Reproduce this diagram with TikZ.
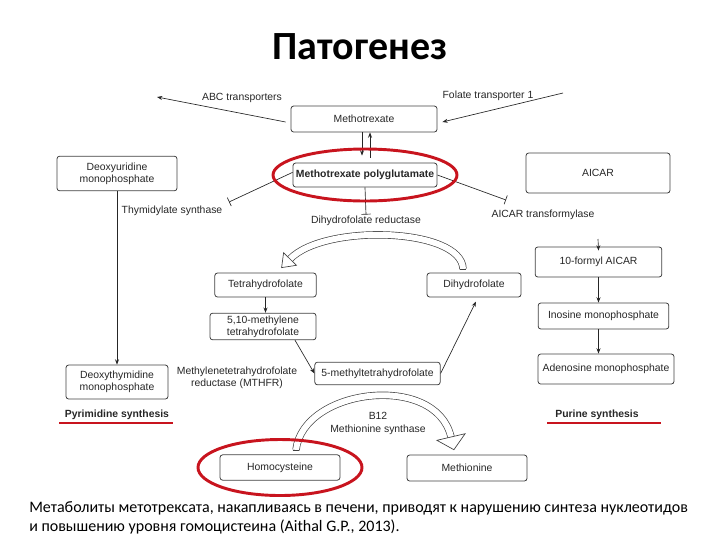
\documentclass[tikz,border=0pt]{standalone}
\usepackage{fontspec}
\setmainfont{Liberation Sans}
\newfontfamily\slidefont{Carlito}
\usetikzlibrary{arrows.meta, calc}
\definecolor{ringred}{RGB}{200,20,30}
\tikzstyle{arrow} = [line width=0.5pt, draw=black!85, -{Stealth[length=4pt, width=3pt]}]
\tikzstyle{inhib} = [line width=0.5pt, draw=black!85, -{Bar[width=7pt]}]
\tikzstyle{box} = [draw=black!75, line width=0.6pt, rounded corners=2pt, inner sep=0pt, align=center, text=black!85]
\tikzstyle{lbl} = [inner sep=1pt, align=center, text=black!85]
\tikzstyle{hollow} = [draw=black!75, line width=0.5pt, double=white, double distance=4.5pt]
\tikzstyle{hollowhead} = [draw=black!75, fill=white, line width=0.5pt, line join=miter]
\tikzstyle{redring} = [draw=ringred, line width=2.2pt]
\tikzstyle{redline} = [draw=ringred, line width=1.9pt]

\begin{document}
\begin{tikzpicture}[x=0.75pt,y=0.75pt,yscale=-1,xscale=1, font=\fontsize{7.8}{9.2}\selectfont]
\useasboundingbox (0,0) rectangle (720,540);

% Title
\node[font=\slidefont\bfseries\fontsize{30}{36}\selectfont] (title) at (360,47) {Патогенез};

% Boxes
\node[box, minimum width=109.5pt, minimum height=19.5pt] (mtx) at (364,119) {Methotrexate};
\node[box, minimum width=108pt, minimum height=18pt, font=\fontsize{7.8}{9.2}\selectfont\bfseries] (mtxpg) at (365,175) {Methotrexate polyglutamate};
\node[box, minimum width=90pt, minimum height=26pt] (dump) at (117,173.5) {Deoxyuridine\\monophosphate};
\node[box, minimum width=76.5pt, minimum height=25.5pt] (dtmp) at (117,382) {Deoxythymidine\\monophosphate};
\node[box, minimum width=108pt, minimum height=30pt] (aicar) at (598,173) {AICAR};
\node[box, minimum width=95pt, minimum height=22.5pt] (faicar) at (598.5,262) {10-formyl AICAR};
\node[box, minimum width=98pt, minimum height=19.5pt] (imp) at (603.5,316) {Inosine monophosphate};
\node[box, minimum width=102pt, minimum height=22.5pt] (amp) at (606,369) {Adenosine monophosphate};
\node[box, minimum width=76pt, minimum height=18pt] (thf) at (265.5,285) {Tetrahydrofolate};
\node[box, minimum width=70.5pt, minimum height=18pt] (dhf) at (474,285) {Dihydrofolate};
\node[box, minimum width=79.5pt, minimum height=20pt] (mthf510) at (263,326.5) {5,10-methylene\\tetrahydrofolate};
\node[box, minimum width=94pt, minimum height=17pt] (mthf5) at (377.5,373.5) {5-methyltetrahydrofolate};
\node[box, minimum width=90pt, minimum height=19pt] (hcy) at (280,467.5) {Homocysteine};
\node[box, minimum width=90pt, minimum height=19.5pt] (met) at (467,468) {Methionine};

% Labels
\node[lbl] (abc) at (242,98) {ABC transporters};
\node[lbl] (folt) at (488,96) {Folate transporter 1};
\node[lbl] (ts) at (172,211) {Thymidylate synthase};
\node[lbl] (dhfr) at (366,221) {Dihydrofolate reductase};
\node[lbl] (aicart) at (543,215) {AICAR transformylase};
\node[lbl] (mthfr) at (237,378) {Methylenetetrahydrofolate\\reductase (MTHFR)};
\node[lbl] (ms) at (378,423.5) {B12\\Methionine synthase};
\node[lbl, font=\fontsize{7.8}{9.2}\selectfont\bfseries] (pyr) at (117,415) {Pyrimidine synthesis};
\node[lbl, font=\fontsize{7.8}{9.2}\selectfont\bfseries] (pur) at (597,415) {Purine synthesis};

% Transport
\coordinate (abcend) at (157,97);
\coordinate (folstart) at (563,93);
\draw[arrow] ([shift={(-5,3)}]mtx.west) -- (abcend);
\draw[arrow] (folstart) -- ([shift={(5,3)}]mtx.east);
\draw[arrow, shorten >=5.25pt] ([xshift=-1.5pt]mtx.south) -- ([xshift=-2.25pt]mtxpg.north);
\draw[arrow, shorten <=3.75pt] ([xshift=3.75pt]mtxpg.north) -- ([xshift=4.5pt]mtx.south);

% Inhibition
\coordinate (tsbar) at (229,202);
\coordinate (atbar) at (506,200);
\draw[inhib] (mtxpg.south) -- (dhfr.north);
\draw[inhib] ([yshift=-2pt]mtxpg.west) -- (tsbar);
\draw[inhib] (mtxpg.east) -- (atbar);

% Pathways
\draw[arrow] (dump) -- (dtmp);
\draw[arrow] (thf.south) -- (thf.south |- mthf510.north);
\draw[arrow] ([xshift=24pt]mthf510.south) -- (mthf5.west);
\draw[arrow, shorten >=3.5pt] (mthf5.east) -- ([xshift=3pt]dhf.south);
\coordinate (fstub) at (598,239);
\draw[arrow] (fstub) -- ([yshift=3pt]faicar.north);
\draw[arrow] (faicar.south) -- (faicar.south |- imp.north);
\draw[arrow] (faicar.south |- imp.south) -- (faicar.south |- amp.north);

% Hollow cycle arrows
\coordinate (ua) at (463,269);
\coordinate (ub) at (290,259);
\coordinate (utip) at (281.6,267.6);
\coordinate (ul) at (296.4,265.3);
\coordinate (ur) at (283.6,252.7);
\draw[hollow] (ua) .. controls (462,228) and (325,223) .. (ub);
\draw[hollowhead] (ul) -- (utip) -- (ur) -- cycle;
\draw[draw=black!75, line width=0.5pt] ([xshift=-2.5pt]ua) -- ([xshift=2.5pt]ua);
\coordinate (la) at (296,450);
\coordinate (lb) at (451,437);
\coordinate (ltip) at (453.9,449.7);
\coordinate (ll) at (465.1,433.7);
\coordinate (lr) at (436.9,440.3);
\draw[hollow] (la) .. controls (303,388) and (436,372) .. (lb);
\draw[hollowhead] (ll) -- (ltip) -- (lr) -- cycle;
\draw[draw=black!75, line width=0.5pt] ([xshift=-2.5pt]la) -- ([xshift=2.5pt]la);

% Red marks
\draw[redring] (mtxpg) ellipse [x radius=69pt, y radius=19.5pt];
\draw[redring] (hcy) ellipse [x radius=61.5pt, y radius=21pt];
\draw[redline] (59,423) -- (173,423);
\draw[redline] (547,423) -- (661,423);

% Caption
\node[anchor=north west, align=left, inner sep=0pt, font=\slidefont\fontsize{12}{14.5}\selectfont] (cap) at (29,501) {Метаболиты метотрексата, накапливаясь в печени, приводят к нарушению синтеза нуклеотидов\\и повышению уровня гомоцистеина (Aithal G.P., 2013).};
\end{tikzpicture}
\end{document}
